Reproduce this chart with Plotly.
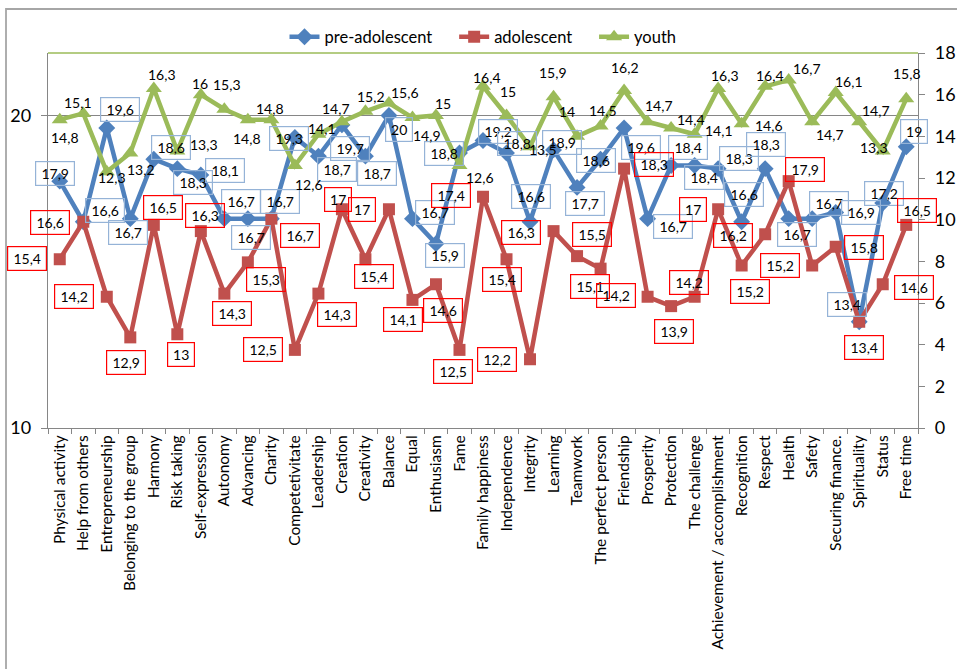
import plotly.graph_objects as go

categories = ["Physical activity", "Help from others", "Entrepreneurship", "Belonging to the group",
              "Harmony", "Risk taking", "Self-expression", "Autonomy", "Advancing", "Charity",
              "Competetivitate", "Leadership", "Creation", "Creativity", "Balance", "Equal",
              "Enthusiasm", "Fame", "Family happiness", "Independence", "Integrity", "Learning",
              "Teamwork", "The perfect person", "Friendship", "Prosperity", "Protection",
              "The challenge", "Achievement / accomplishment", "Recognition", "Respect", "Health",
              "Safety", "Securing finance.", "Spirituality", "Status", "Free time"]

pre_adolescent = [17.9, 16.6, 19.6, 16.7, 18.6, 18.3, 18.1, 16.7, 16.7, 16.7, 19.3, 18.7, 19.7, 18.7,
                  20, 16.7, 15.9, 18.8, 19.2, 18.8, 16.6, 18.9, 17.7, 18.6, 19.6, 16.7, 18.4, 18.4,
                  18.3, 16.6, 18.3, 16.7, 16.7, 16.9, 13.4, 17.2, 19]
adolescent = [15.4, 16.6, 14.2, 12.9, 16.5, 13, 16.3, 14.3, 15.3, 16.7, 12.5, 14.3, 17, 15.4, 17,
              14.1, 14.6, 12.5, 17.4, 15.4, 12.2, 16.3, 15.5, 15.1, 18.3, 14.2, 13.9, 14.2, 17,
              15.2, 16.2, 17.9, 15.2, 15.8, 13.4, 14.6, 16.5]
youth = [14.8, 15.1, 12.3, 13.2, 16.3, 13.3, 16, 15.3, 14.8, 14.8, 12.6, 14.1, 14.7, 15.2, 15.6,
         14.9, 15, 12.6, 16.4, 15, 13.5, 15.9, 14, 14.5, 16.2, 14.7, 14.4, 14.1, 16.3, 14.6, 16.4,
         16.7, 14.7, 16.1, 14.7, 13.3, 15.8]

# data-label placement offsets (screen px: dx right, dy down) -- layout only
pre_label_pos = [(-5, -8), (22, -11), (13, -19), (-2, 14), (17, -12), (16, 14), (24, -4), (17, -17),
                 (3, 19), (9, -17), (-6, 1), (19, 13), (8, 24), (12, 17), (10, 14), (23, -6),
                 (9, 12), (-15, 0), (15, -9), (10, -10), (1, -25), (8, -7), (8, 16), (-5, 1),
                 (17, 19), (25, 8), (17, -18), (9, 12), (21, -10), (2, -27), (1, -24), (8, 16),
                 (17, -15), (25, 0), (-12, -17), (1, -10), (8, -15)]
adol_label_pos = [(-33, -1), (-33, 1), (-33, 0), (-4, 25), (9, -17), (4, 20), (4, -16), (8, 20),
                  (18, 17), (29, 17), (-32, 0), (19, 21), (-4, -10), (9, 17), (-27, 0), (-9, 20),
                  (7, 26), (-6, 22), (-32, -1), (-5, 20), (-33, 0), (-33, 1), (15, -22), (-11, 18),
                  (30, -4), (-32, -1), (3, 25), (-6, -14), (-25, 0), (8, 26), (-32, 1), (16, -12),
                  (-32, 0), (28, 1), (5, 26), (31, 3), (11, -14)]
youth_label_pos = [(5, 18), (-5, -11), (5, 6), (11, 16), (8, -14), (27, -6), (-1, -11), (3, -25),
                   (-1, 19), (-1, -11), (14, 19), (4, -6), (-6, -13), (6, -15), (16, -11), (15, 18),
                   (7, -12), (21, 12), (4, -9), (1, -24), (13, 3), (-1, -24), (-10, -25), (2, -15),
                   (1, -23), (11, -16), (20, -9), (24, -4), (7, -13), (27, 2), (5, -11), (18, -12),
                   (18, 13), (13, -11), (17, -11), (-9, -3), (1, -25)]

BLUE = "#4F81BD"
RED = "#C0504D"
GREEN = "#9BBB59"
AXIS = "#868686"
FONT = "Lato"
PAD = "\u00a0" * 4

fig = go.Figure()
fig.add_trace(go.Scatter(x=categories, y=pre_adolescent, name="pre-adolescent" + PAD, mode="lines+markers",
                         line=dict(color=BLUE, width=4.5),
                         marker=dict(symbol="diamond", size=13, color=BLUE), yaxis="y"))
fig.add_trace(go.Scatter(x=categories, y=adolescent, name="adolescent" + PAD, mode="lines+markers",
                         line=dict(color=RED, width=4.5),
                         marker=dict(symbol="square", size=12, color=RED), yaxis="y"))
fig.add_trace(go.Scatter(x=categories, y=youth, name="youth", mode="lines+markers",
                         line=dict(color=GREEN, width=4.5),
                         marker=dict(symbol="triangle-up", size=14, color=GREEN), yaxis="y2"))


def fmt(v):
    return f"{v:g}".replace(".", ",")


def add_labels(values, positions, yref, border):
    for cat, v, (dx, dy) in zip(categories, values, positions):
        txt = fmt(v)
        kw = {}
        if border:
            kw = dict(bordercolor=border, borderwidth=1.2, borderpad=2,
                      width=6 * len(txt) + 10, height=19)
        fig.add_annotation(x=cat, y=v, xref="x", yref=yref, text=txt, showarrow=False,
                           xshift=dx, yshift=-dy, xanchor="center", yanchor="middle",
                           font=dict(family=FONT, size=14, color="black"), **kw)


add_labels(pre_adolescent, pre_label_pos, "y", "#95B3D7")
add_labels(adolescent, adol_label_pos, "y", "#FF0000")
add_labels(youth, youth_label_pos, "y2", None)

W, H = 957, 669
L, R, T, B = 48, 39, 53, 241
pw, ph = W - L - R, H - T - B

fig.update_layout(
    width=W, height=H,
    margin=dict(l=L, r=R, t=T, b=B, autoexpand=False),
    paper_bgcolor="white", plot_bgcolor="white",
    font=dict(family=FONT, color="black"),
    showlegend=True,
    legend=dict(orientation="h", x=0.5, xanchor="center", y=1 + (T - 37) / ph, yanchor="middle",
                font=dict(family=FONT, size=16.5), bgcolor="rgba(0,0,0,0)", itemwidth=30),
    xaxis=dict(type="category", range=[-0.5, len(categories) - 0.5], tickangle=-90,
               tickfont=dict(family=FONT, size=15.5),
               showline=True, linecolor=AXIS, linewidth=1.3, ticks="outside", tickson="boundaries",
               ticklen=5, tickcolor=AXIS, showgrid=False, zeroline=False),
    yaxis=dict(range=[10, 22], tickvals=[10, 20], showline=True, linecolor=AXIS, linewidth=1.3,
               ticks="outside", ticklen=6, tickcolor=AXIS, showgrid=True, gridcolor=AXIS,
               gridwidth=1.3, zeroline=False, tickfont=dict(family=FONT, size=18),
               ticklabelstandoff=6),
    yaxis2=dict(range=[0, 18], dtick=2, overlaying="y", side="right", showline=True,
                linecolor=AXIS, linewidth=1.3, ticks="outside", ticklen=6, tickcolor=AXIS,
                showgrid=False, zeroline=False, tickfont=dict(family=FONT, size=18),
                ticklabelstandoff=6),
    shapes=[
        dict(type="line", xref="paper", yref="paper", x0=0, x1=1, y0=1, y1=1,
             line=dict(color=GREEN, width=1.5)),
        dict(type="rect", xref="paper", yref="paper", x0=(6 - L) / pw, x1=1.3,
             y0=-0.8, y1=1 + (T - 9) / ph, line=dict(color="#A6A6A6", width=1.8)),
    ],
)

fig.write_html("out.html")
